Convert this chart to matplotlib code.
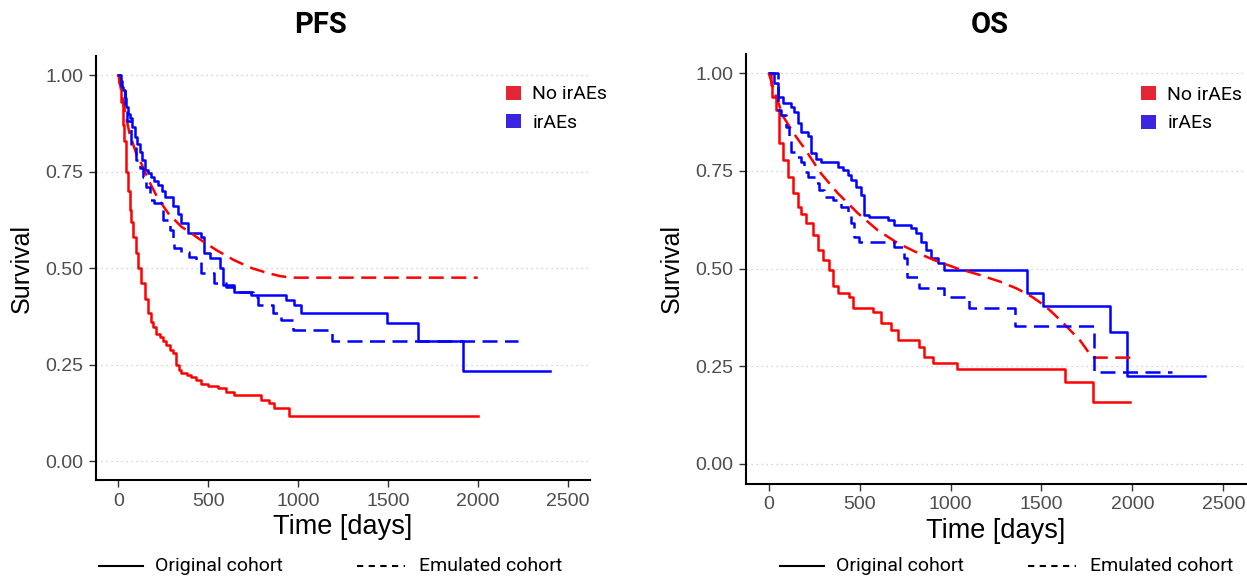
import matplotlib
matplotlib.use("Agg")
import matplotlib.pyplot as plt
from matplotlib.lines import Line2D
from matplotlib.patches import Patch

plt.rcParams['font.family'] = ['Liberation Sans', 'DejaVu Sans']

# ---- PFS data (days, survival) ----
pfs_no_orig_t = [0, 5, 15, 25, 33, 44, 55, 65, 72, 83, 95, 111, 128, 145, 165, 180, 193, 210, 230, 248,
                 265, 285, 305, 320, 335, 350, 380, 405, 430, 460, 500, 555, 600, 645, 795, 840, 867, 950, 2000]
pfs_no_orig_s = [1.0, 0.98, 0.93, 0.87, 0.83, 0.75, 0.70, 0.65, 0.62, 0.58, 0.54, 0.50, 0.46, 0.42, 0.383,
                 0.36, 0.347, 0.33, 0.32, 0.31, 0.30, 0.287, 0.28, 0.25, 0.235, 0.228, 0.222, 0.218, 0.21,
                 0.20, 0.195, 0.19, 0.18, 0.17, 0.158, 0.15, 0.137, 0.117, 0.117]

pfs_ir_orig_t = [0, 10, 20, 28, 36, 44, 55, 63, 75, 90, 105, 118, 130, 146, 165, 183, 200, 220, 240, 257,
                 305, 333, 350, 387, 460, 478, 507, 563, 583, 645, 740, 933, 980, 1017, 1494, 1667, 1917, 2405]
pfs_ir_orig_s = [1.0, 0.985, 0.97, 0.96, 0.94, 0.917, 0.90, 0.888, 0.865, 0.84, 0.82, 0.80, 0.78, 0.754,
                 0.745, 0.736, 0.725, 0.715, 0.70, 0.684, 0.66, 0.64, 0.617, 0.59, 0.58, 0.539, 0.526, 0.50,
                 0.456, 0.438, 0.43, 0.417, 0.404, 0.383, 0.357, 0.311, 0.233, 0.233]

pfs_no_emul_t = [0, 30, 61, 100, 128, 170, 220, 280, 350, 405, 460, 550, 645, 740, 830, 900, 960, 2000]
pfs_no_emul_s = [1.0, 0.92, 0.85, 0.795, 0.77, 0.725, 0.68, 0.64, 0.607, 0.59, 0.572, 0.545, 0.52, 0.50,
                 0.487, 0.479, 0.475, 0.475]

pfs_ir_emul_t = [0, 15, 35, 50, 72, 100, 120, 137, 155, 174, 200, 240, 250, 285, 305, 311, 350, 395, 433,
                 460, 533, 600, 645, 750, 778, 861, 905, 972, 1189, 2222]
pfs_ir_emul_s = [1.0, 0.96, 0.925, 0.88, 0.82, 0.78, 0.76, 0.736, 0.71, 0.676, 0.668, 0.65, 0.624, 0.598,
                 0.572, 0.551, 0.542, 0.529, 0.515, 0.487, 0.46, 0.45, 0.438, 0.425, 0.404, 0.383, 0.365,
                 0.34, 0.311, 0.311]

# ---- OS data ----
os_no_orig_t = [0, 10, 20, 38, 55, 77, 104, 132, 159, 176, 203, 242, 269, 297, 330, 352, 379, 440, 462,
                571, 615, 670, 709, 824, 852, 901, 1038, 1632, 1786, 1989]
os_no_orig_s = [1.0, 0.97, 0.94, 0.905, 0.82, 0.778, 0.734, 0.693, 0.657, 0.64, 0.616, 0.585, 0.547, 0.522,
                0.496, 0.455, 0.437, 0.427, 0.399, 0.389, 0.36, 0.343, 0.317, 0.30, 0.274, 0.258, 0.243,
                0.21, 0.159, 0.159]

os_ir_orig_t = [0, 27, 49, 77, 121, 137, 159, 176, 214, 231, 258, 286, 379, 407, 434, 451, 478, 505, 522,
                549, 654, 687, 780, 808, 835, 863, 890, 929, 962, 1423, 1511, 1879, 1973, 2401]
os_ir_orig_s = [1.0, 0.974, 0.94, 0.923, 0.913, 0.90, 0.872, 0.85, 0.84, 0.795, 0.78, 0.772, 0.76, 0.752,
                0.739, 0.726, 0.708, 0.688, 0.637, 0.632, 0.624, 0.611, 0.603, 0.59, 0.568, 0.547, 0.527,
                0.514, 0.496, 0.437, 0.404, 0.337, 0.225, 0.225]

os_no_emul_t = [0, 40, 82, 137, 203, 286, 379, 489, 599, 709, 819, 907, 1038, 1150, 1275, 1368, 1450,
                1511, 1549, 1621, 1714, 1780, 1989]
os_no_emul_s = [1.0, 0.94, 0.887, 0.846, 0.803, 0.744, 0.693, 0.642, 0.598, 0.565, 0.54, 0.522, 0.50,
                0.485, 0.466, 0.448, 0.427, 0.407, 0.392, 0.36, 0.315, 0.272, 0.272]

os_ir_emul_t = [0, 49, 66, 93, 110, 121, 148, 176, 192, 214, 258, 275, 302, 352, 396, 434, 451, 467, 494,
                687, 742, 763, 824, 962, 1099, 1357, 1791, 2220]
os_ir_emul_s = [1.0, 0.905, 0.893, 0.862, 0.829, 0.798, 0.785, 0.772, 0.747, 0.734, 0.719, 0.70, 0.683,
                0.675, 0.657, 0.645, 0.616, 0.581, 0.568, 0.555, 0.527, 0.478, 0.45, 0.427, 0.40, 0.353,
                0.235, 0.235]

RED = "#ff0000"
BLUE = "#0000ff"
DASH = (0, (6, 3))

W, H = 1247, 577
fig = plt.figure(figsize=(W / 100, H / 100), dpi=100)


def px_axes(l, t, r, b):
    return fig.add_axes([l / W, 1 - b / H, (r - l) / W, (b - t) / H])


def style(ax, title, title_x):
    ax.set_xlim(-125, 2625)
    ax.set_ylim(-0.05, 1.05)
    ax.set_xticks([0, 500, 1000, 1500, 2000, 2500])
    ax.set_yticks([0, 0.25, 0.5, 0.75, 1.0])
    ax.set_yticklabels(["0.00", "0.25", "0.50", "0.75", "1.00"])
    for s in ["top", "right"]:
        ax.spines[s].set_visible(False)
    for s in ["left", "bottom"]:
        ax.spines[s].set_linewidth(1.5)
        ax.spines[s].set_color("black")
    ax.tick_params(labelsize=14, labelcolor="#4d4d4d", color="#333333", length=5, width=1, pad=4)
    ax.yaxis.grid(True, linestyle=(0, (1, 3)), color="#c8c8c8", lw=0.9)
    ax.set_axisbelow(True)
    ax.set_xlabel("Time [days]", fontsize=19.5)
    ax.set_ylabel("Survival", fontsize=18)
    ax.xaxis.set_label_coords(0.5, -0.08)
    ax.yaxis.set_label_coords(-0.125, 0.5)
    fig.text(title_x / W, 1 - 25 / H, title, fontsize=21, fontweight="bold",
             family=["Roboto", "DejaVu Sans"], ha="center", va="center")


def legend_in(ax, x, y):
    handles = [Patch(facecolor="#e32636", edgecolor="none", label="No irAEs"),
               Patch(facecolor="#3b25e0", edgecolor="none", label="irAEs")]
    ax.legend(handles=handles, loc="upper left", bbox_to_anchor=(x, y), frameon=False,
              handlelength=0.75, handleheight=0.75, handletextpad=0.6, labelspacing=0.55,
              borderaxespad=0, borderpad=0, prop={"family": ["Roboto", "DejaVu Sans"], "size": 14})


def legend_bottom(x_solid, x_dash):
    y = 1 - 566 / H
    fig.add_artist(Line2D([x_solid / W, (x_solid + 44) / W], [y, y], color="black", lw=1.5,
                          transform=fig.transFigure))
    fig.text((x_solid + 56) / W, y, "Original cohort", fontsize=14, va="center",
             family=["Roboto", "DejaVu Sans"])
    fig.add_artist(Line2D([x_dash / W, (x_dash + 48) / W], [y, y], color="black", lw=1.5,
                          linestyle=(0, (3, 2.6)), transform=fig.transFigure))
    fig.text((x_dash + 62) / W, y, "Emulated cohort", fontsize=14, va="center",
             family=["Roboto", "DejaVu Sans"])


# PFS panel
ax1 = px_axes(96, 55.7, 590, 480.3)
ax1.step(pfs_no_orig_t, pfs_no_orig_s, where="post", color=RED, lw=1.8)
ax1.step(pfs_ir_orig_t, pfs_ir_orig_s, where="post", color=BLUE, lw=1.8)
ax1.plot(pfs_no_emul_t, pfs_no_emul_s, color=RED, lw=1.8, linestyle=DASH)
ax1.step(pfs_ir_emul_t, pfs_ir_emul_s, where="post", color=BLUE, lw=1.8, linestyle=DASH)
style(ax1, "PFS", 320)
legend_in(ax1, 0.83, 0.93)
legend_bottom(99, 357)

# OS panel
ax2 = px_axes(746, 53.5, 1246, 483.5)
ax2.step(os_no_orig_t, os_no_orig_s, where="post", color=RED, lw=1.8)
ax2.step(os_ir_orig_t, os_ir_orig_s, where="post", color=BLUE, lw=1.8)
ax2.plot(os_no_emul_t, os_no_emul_s, color=RED, lw=1.8, linestyle=DASH)
ax2.step(os_ir_emul_t, os_ir_emul_s, where="post", color=BLUE, lw=1.8, linestyle=DASH)
style(ax2, "OS", 990)
legend_in(ax2, 0.79, 0.925)
legend_bottom(780, 1028)

fig.savefig("out.png", dpi=100)
